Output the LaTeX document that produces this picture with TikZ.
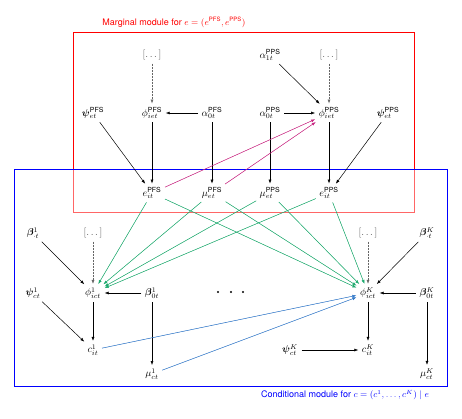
\documentclass[tikz,border=0pt]{standalone}
\usepackage{amsmath,bm}
\usepackage{fontspec}
\setsansfont{TeX Gyre Heros}
\usetikzlibrary{arrows.meta}
\definecolor{mag}{RGB}{200,40,130}
\definecolor{grn}{RGB}{30,170,110}
\definecolor{blu}{RGB}{50,120,200}
\newcommand{\PFSs}{\textsf{PFS}}
\newcommand{\PPSs}{\textsf{PPS}}
\tikzset{
  arr/.style={-{Latex[length=4pt,width=3pt]}, line width=0.5pt, shorten >=1pt, shorten <=1pt},
  dotarr/.style={arr, densely dotted, black!60},
  mg/.style={arr, draw=mag, fill=mag},
  gr/.style={arr, draw=grn, fill=grn},
  bl/.style={arr, draw=blu, fill=blu},
  v/.style={inner sep=2.5pt},
  dd/.style={inner sep=2.5pt, text=black!65},
  boxr/.style={draw=red, line width=1pt},
  boxb/.style={draw=blue, line width=1pt, fill=white, fill opacity=0.4},
}
\begin{document}
\begin{tikzpicture}[x=1pt,y=-1pt]
\useasboundingbox (0,0) rectangle (462,418);
% boxes
\draw[boxr] (73,32) rectangle (414,212);
\draw[boxb] (14,169) rectangle (447,386);
\node[text=red, font=\sffamily\small] (lm) at (174,22) {Marginal module for $e=(e^{\PFSs}, e^{\PPSs})$};
\node[text=blue, font=\sffamily\small] (lc) at (345,395) {Conditional module for $c=(c^1,\dots,c^K)\mid e$};
% marginal nodes
\node[dd] (dP) at (152,55) {$[\dots]$};
\node[v] (a1) at (270,55) {$\alpha_{1t}^{\PPSs}$};
\node[dd] (dQ) at (329,55) {$[\dots]$};
\node[v] (psiP) at (93,113) {$\bm{\psi}_{et}^{\PFSs}$};
\node[v] (phiP) at (152,113) {$\phi_{iet}^{\PFSs}$};
\node[v] (a0P) at (212,113) {$\alpha_{0t}^{\PFSs}$};
\node[v] (a0Q) at (270,113) {$\alpha_{0t}^{\PPSs}$};
\node[v] (phiQ) at (329,113) {$\phi_{iet}^{\PPSs}$};
\node[v] (psiQ) at (388,113) {$\bm{\psi}_{et}^{\PPSs}$};
\node[v] (eP) at (152,193) {$e_{it}^{\PFSs}$};
\node[v] (muP) at (212,193) {$\mu_{et}^{\PFSs}$};
\node[v] (muQ) at (270,193) {$\mu_{et}^{\PPSs}$};
\node[v] (eQ) at (329,193) {$e_{it}^{\PPSs}$};
% conditional nodes
\node[v] (b1) at (33,233) {$\bm{\beta}_{\cdot t}^{1}$};
\node[dd] (d1) at (93,233) {$[\dots]$};
\node[dd] (dK) at (368,233) {$[\dots]$};
\node[v] (bK) at (427,233) {$\bm{\beta}_{\cdot t}^{K}$};
\node[v] (psi1) at (33,293) {$\bm{\psi}_{ct}^{1}$};
\node[v] (phi1) at (93,293) {$\phi_{ict}^{1}$};
\node[v] (b01) at (152,293) {$\bm{\beta}_{0t}^{1}$};
\node[v] (phiK) at (368,293) {$\phi_{ict}^{K}$};
\node[v] (b0K) at (427,293) {$\bm{\beta}_{0t}^{K}$};
\node[v] (c1) at (93,350) {$c_{it}^{1}$};
\node[v] (psiK) at (290,350) {$\bm{\psi}_{ct}^{K}$};
\node[v] (cK) at (368,350) {$c_{it}^{K}$};
\node[v] (mu1) at (152,374) {$\mu_{ct}^{1}$};
\node[v] (muK) at (427,374) {$\mu_{ct}^{K}$};
\foreach \xx in {218,231,243} \fill (\xx,292) circle (1.1pt);
% marginal edges
\draw[dotarr] (dP) -- (phiP);
\draw[dotarr] (dQ) -- (phiQ);
\draw[arr] (a1) -- (phiQ);
\draw[arr] (a0P) -- (phiP);
\draw[arr] (a0Q) -- (phiQ);
\draw[arr] (psiP) -- (eP);
\draw[arr] (phiP) -- (eP);
\draw[arr] (a0P) -- (muP);
\draw[arr] (a0Q) -- (muQ);
\draw[arr] (phiQ) -- (eQ);
\draw[arr] (psiQ) -- (eQ);
\draw[mg] (eP) -- (phiQ);
\draw[mg] (muP) -- (phiQ);
% green edges
\foreach \s in {eP,muP,muQ,eQ}{
  \draw[gr] (\s) -- (phi1);
  \draw[gr] (\s) -- (phiK);
}
% conditional edges
\draw[arr] (b1) -- (phi1);
\draw[dotarr] (d1) -- (phi1);
\draw[arr] (b01) -- (phi1);
\draw[arr] (phi1) -- (c1);
\draw[arr] (psi1) -- (c1);
\draw[arr] (b01) -- (mu1);
\draw[bl] (c1) -- (phiK);
\draw[bl] (mu1) -- (phiK);
\draw[dotarr] (dK) -- (phiK);
\draw[arr] (bK) -- (phiK);
\draw[arr] (b0K) -- (phiK);
\draw[arr] (phiK) -- (cK);
\draw[arr] (psiK) -- (cK);
\draw[arr] (b0K) -- (muK);
\end{tikzpicture}
\end{document}
